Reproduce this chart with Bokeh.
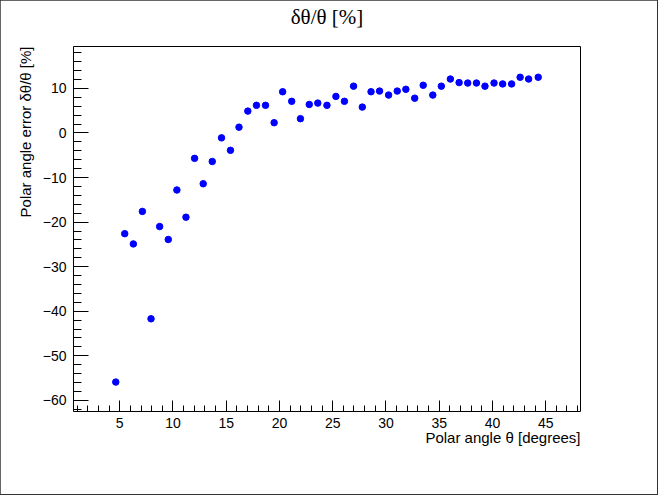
from bokeh.plotting import figure
from bokeh.models import Range1d, FixedTicker, Title, ColumnDataSource
from bokeh.embed import file_html
from bokeh.resources import INLINE

# ---- data ----
theta_deg = [4.63, 5.47, 6.28, 7.13, 7.94, 8.75, 9.56, 10.37, 11.22, 12.03,
             12.84, 13.69, 14.56, 15.40, 16.20, 17.03, 17.84, 18.69, 19.50, 20.30,
             21.15, 21.97, 22.80, 23.60, 24.46, 25.30, 26.10, 26.96, 27.78, 28.60,
             29.40, 30.25, 31.06, 31.87, 32.70, 33.50, 34.40, 35.20, 36.05, 36.87,
             37.68, 38.50, 39.30, 40.15, 40.96, 41.80, 42.60, 43.40, 44.30]
err_pct = [-55.9, -22.6, -24.9, -17.6, -41.7, -21.0, -23.9, -12.8, -18.9, -5.7,
           -11.4, -6.4, -1.1, -3.9, 1.3, 4.9, 6.2, 6.2, 2.3, 9.25,
           7.1, 3.2, 6.4, 6.7, 6.2, 8.2, 7.1, 10.5, 5.8, 9.25,
           9.4, 8.5, 9.4, 9.8, 7.8, 10.7, 8.5, 10.5, 12.1, 11.3,
           11.2, 11.2, 10.5, 11.2, 11.0, 11.0, 12.5, 12.1, 12.5]

x_major = [5, 10, 15, 20, 25, 30, 35, 40, 45]
x_minor = list(range(1, 49))
y_major = [-60, -50, -40, -30, -20, -10, 0, 10]
y_minor = list(range(-62, 20, 2))

title_text = "δθ/θ [%]"
x_title = "Polar angle θ [degrees]"
y_title = "Polar angle error δθ/θ [%]"

X_RANGE = (0.66, 48.27)
Y_RANGE = (-62.5, 19.4)

# ---- figure ----
W, H = 657, 494
ML, MR, MT, MB = 73, 77, 46, 83

p = figure(width=W, height=H, output_backend="svg", toolbar_location=None,
           x_range=Range1d(*X_RANGE), y_range=Range1d(*Y_RANGE),
           min_border_left=ML, min_border_right=MR,
           min_border_top=MT, min_border_bottom=MB)
p.styles = {"outline": "2px solid #333333", "outline-offset": "-1px"}

p.xgrid.visible = False
p.ygrid.visible = False
p.outline_line_color = "black"
p.outline_line_width = 1
p.background_fill_color = "white"
p.border_fill_color = "white"

FONT = "Liberation Sans"

# main title
p.title.text = title_text
p.title.align = "center"
p.title.offset = -2
p.title.standoff = 2
p.title.text_font = "Liberation Serif"
p.title.text_font_size = "21px"
p.title.text_font_style = "normal"
p.title.text_color = "black"

# invisible spacer between title and frame
p.add_layout(Title(text="\u00a0", text_font_size="1px", standoff=14), "above")

xa = p.xaxis[0]
xa.ticker = FixedTicker(ticks=x_major, minor_ticks=x_minor)
xa.axis_line_color = None
xa.major_tick_in = 11
xa.major_tick_out = 0
xa.minor_tick_in = 6
xa.minor_tick_out = 0
xa.major_tick_line_color = "black"
xa.minor_tick_line_color = "black"
xa.major_label_standoff = 6
xa.major_label_text_font = FONT
xa.major_label_text_font_size = "14px"
xa.major_label_text_color = "black"

ya = p.yaxis[0]
ya.ticker = FixedTicker(ticks=y_major, minor_ticks=y_minor)
ya.axis_line_color = None
ya.major_tick_in = 15
ya.major_tick_out = 0
ya.minor_tick_in = 8
ya.minor_tick_out = 0
ya.major_tick_line_color = "black"
ya.minor_tick_line_color = "black"
ya.major_label_standoff = 7
ya.major_label_text_font = FONT
ya.major_label_text_font_size = "14px"
ya.major_label_text_color = "black"
ya.major_label_overrides = {t: str(t).replace("-", "\u2212") for t in y_major}

src = ColumnDataSource(dict(x=theta_deg, y=err_pct))
p.scatter("x", "y", source=src, size=6.5, fill_color="#0000ff", line_color="#0000ff")

# axis titles as side titles (aligned like ROOT: right / top)
p.add_layout(Title(text=x_title, align="right", standoff=-8,
                   text_font=FONT, text_font_size="15px", text_font_style="normal",
                   text_color="black"), "below")
p.add_layout(Title(text=y_title, align="right", standoff=12,
                   text_font=FONT, text_font_size="15px", text_font_style="normal",
                   text_color="black"), "left")

open("out.html", "w").write(file_html(p, INLINE))
